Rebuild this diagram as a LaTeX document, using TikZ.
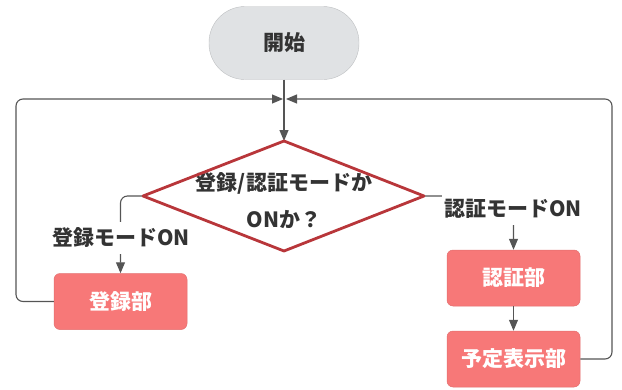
\documentclass[tikz,border=0pt]{standalone}
\usepackage{fontspec}
\setmainfont{Noto Sans CJK JP}
\usetikzlibrary{arrows.meta}
\definecolor{boxred}{HTML}{F77878}
\definecolor{dred}{HTML}{B8363A}
\definecolor{startgray}{HTML}{E0E2E4}
\definecolor{txt}{HTML}{333333}
\definecolor{ln}{HTML}{555555}
\begin{document}
\begin{tikzpicture}[x=1pt,y=-1pt,
  every node/.style={font=\bfseries\fontsize{21}{37}\selectfont, text=txt},
  proc/.style={draw=boxred!92!black, fill=boxred, rounded corners=6pt, minimum width=133pt, minimum height=56pt, text=white, line width=0.5pt},
  startnode/.style={draw=startgray!85!black, fill=startgray, rounded corners=36pt, minimum width=150pt, minimum height=73pt, line width=0.4pt},
  lbl/.style={fill=white, inner xsep=2pt, inner ysep=6pt},
  conn/.style={draw=ln, line width=1.1pt, rounded corners=7pt},
  arr/.style={conn, -{Triangle[length=11pt,width=9pt]}}]
\useasboundingbox (0,0) rectangle (622,389);
\node[startnode] (start) at (284,43) {開始};
\coordinate (dl) at (143,196);
\coordinate (dr) at (424,196);
\coordinate (dt) at (284,141);
\coordinate (db) at (284,251);
\coordinate (mL) at (283,99);
\coordinate (mR) at (286,99);
\node (dq) at (284,201) [align=center] {登録/認証モードか\\ONか？};
\node[proc] (reg) at (120.5,301.5) {登録部};
\node[proc] (auth) at (513.5,278) {認証部};
\node[proc] (sched) at (513.5,359) {予定表示部};
% connectors
\draw[arr] (start.south) -- (dt);
\draw[arr] (dl) -| (reg.north);
\draw[arr] (dr) -| (auth.north);
\draw[arr] (auth.south) -- (sched.north);
\draw[arr] (reg.west) -- (16,301.5) -- (16,99) -- (mL);
\draw[arr] (sched.east) -- (612,359) -- (612,99) -- (mR);
% diamond
\draw[dred, line width=2.8pt, line join=round] (dl) -- (dt) -- (dr) -- (db) -- cycle;
% labels
\node[lbl] (lreg) at (121,238) {登録モードON};
\node[lbl] (lauth) at (513,209) {認証モードON};
\end{tikzpicture}
\end{document}
